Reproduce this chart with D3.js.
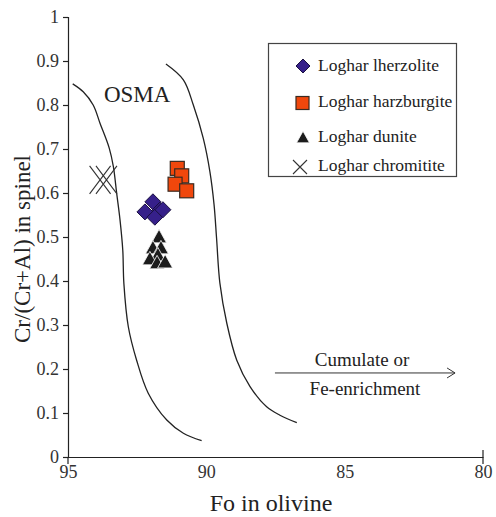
<!DOCTYPE html>
<html>
<head>
<meta charset="utf-8">
<script src="https://cdn.jsdelivr.net/npm/d3@7"></script>
<style>
  html, body { margin: 0; padding: 0; background: #fff; }
  svg { display: block; }
</style>
</head>
<body>
<svg id="chart" width="496" height="517"></svg>
<script>
// ---------- data ----------
const xTicks = [95, 90, 85, 80];
const yTicks = [0, 0.1, 0.2, 0.3, 0.4, 0.5, 0.6, 0.7, 0.8, 0.9, 1];

const lherzolite = [
  [91.93, 0.580], [92.22, 0.557], [91.68, 0.561], [91.86, 0.545], [91.57, 0.562]
];
const harzburgite = [
  [91.05, 0.656], [90.89, 0.639], [91.13, 0.620], [90.71, 0.605]
];
const dunite = [
  [91.71, 0.502], [91.93, 0.477], [91.64, 0.477], [91.75, 0.461],
  [92.04, 0.452], [91.78, 0.443], [91.49, 0.445]
];
const chromitite = [
  [93.84, 0.630], [93.61, 0.630]
];
const osmaLeft = [
  [94.83, 0.848], [94.45, 0.830], [94.09, 0.800], [93.84, 0.758], [93.51, 0.702],
  [93.36, 0.660], [93.24, 0.599], [93.12, 0.539], [93.02, 0.470], [92.98, 0.394],
  [92.82, 0.296], [92.52, 0.220], [92.10, 0.145], [91.43, 0.084], [90.83, 0.054],
  [90.17, 0.037]
];
const osmaRight = [
  [91.46, 0.893], [90.83, 0.857], [90.47, 0.800], [90.11, 0.724], [89.87, 0.648],
  [89.72, 0.573], [89.63, 0.497], [89.51, 0.395], [89.26, 0.304], [88.90, 0.220],
  [88.42, 0.160], [87.82, 0.114], [87.34, 0.095], [86.73, 0.078]
];
const legendLabels = ["Loghar lherzolite", "Loghar harzburgite", "Loghar dunite", "Loghar chromitite"];
const arrowLabels = ["Cumulate or", "Fe-enrichment"];
const arrowX = [87.52, 81.01];   // arrow start / end in Fo units
const arrowY = 0.191;

// ---------- layout ----------
const FONT = '"Liberation Serif", "Times New Roman", "DejaVu Serif", serif';
const svg = d3.select("#chart");
const x = d3.scaleLinear().domain([95, 80]).range([68, 483]);
const y = d3.scaleLinear().domain([0, 1]).range([457, 17]);

const colLherz = "#36208a", colHarz = "#f0470c", colDun = "#1c1c1c";

function txt(g, s, size) {
  return g.append("text").attr("font-family", FONT).style("font-family", FONT)
    .style("font-size", size + "px").attr("fill", "#222").text(s);
}

// axes
const yAxis = d3.axisLeft(y).tickValues(yTicks).tickSize(5).tickPadding(4)
  .tickFormat(d => d === 0 ? "0" : d === 1 ? "1" : d3.format(".1f")(d));
const gy = svg.append("g").attr("transform", `translate(${x(95)},0)`).call(yAxis)
  .attr("font-family", FONT);
gy.select(".domain").attr("stroke", "#222").attr("stroke-width", 1.2);
gy.selectAll(".tick line").attr("stroke", "#222").attr("stroke-width", 1.2);
gy.selectAll(".tick text").style("font-size", "18px").attr("fill", "#333")
  .style("font-family", FONT);

const xAxis = d3.axisBottom(x).tickValues(xTicks).tickSize(0).tickPadding(8)
  .tickFormat(d3.format("d"));
const gx = svg.append("g").attr("transform", `translate(0,${y(0)})`).call(xAxis)
  .attr("font-family", FONT);
gx.select(".domain").attr("stroke", "#222").attr("stroke-width", 1.2);
gx.selectAll(".tick text").style("font-size", "18px").attr("fill", "#333")
  .style("font-family", FONT);
// end ticks
gx.append("line").attr("x1", x(95)).attr("x2", x(95)).attr("y1", 0).attr("y2", 7)
  .attr("stroke", "#222").attr("stroke-width", 1.2);
gx.append("line").attr("x1", x(80)).attr("x2", x(80)).attr("y1", -7).attr("y2", 7)
  .attr("stroke", "#222").attr("stroke-width", 1.2);

// axis titles
txt(svg, "Fo in olivine", 24).attr("x", 271).attr("y", 511).attr("text-anchor", "middle");
txt(svg, "Cr/(Cr+Al) in spinel", 23).attr("transform", "translate(30,249) rotate(-90)")
  .attr("text-anchor", "middle");

// OSMA curves
const line = d3.line().x(d => x(d[0])).y(d => y(d[1])).curve(d3.curveCatmullRom.alpha(0.5));
[osmaLeft, osmaRight].forEach(c => {
  svg.append("path").datum(c).attr("d", line)
    .attr("fill", "none").attr("stroke", "#222").attr("stroke-width", 1.3);
});
txt(svg, "OSMA", 23).attr("x", x(92.5)).attr("y", y(0.807)).attr("text-anchor", "middle");

// arrow
svg.append("line").attr("x1", x(arrowX[0])).attr("x2", x(arrowX[1]))
  .attr("y1", y(arrowY)).attr("y2", y(arrowY)).attr("stroke", "#333").attr("stroke-width", 1);
svg.append("path")
  .attr("d", `M${x(arrowX[1]) - 8},${y(arrowY) - 5} L${x(arrowX[1])},${y(arrowY)} L${x(arrowX[1]) - 8},${y(arrowY) + 5}`)
  .attr("fill", "none").attr("stroke", "#333").attr("stroke-width", 1);
const axMid = (x(arrowX[0]) + x(arrowX[1])) / 2;
txt(svg, arrowLabels[0], 19).attr("x", axMid - 3).attr("y", y(arrowY) - 7).attr("text-anchor", "middle");
txt(svg, arrowLabels[1], 19).attr("x", axMid).attr("y", y(arrowY) + 22).attr("text-anchor", "middle");

// markers
function diamond(g, cx, cy, r) {
  g.append("path").attr("d", `M${cx},${cy - r}L${cx + r},${cy}L${cx},${cy + r}L${cx - r},${cy}Z`)
    .attr("fill", colLherz).attr("stroke", "#1a1040").attr("stroke-width", 1);
}
function square(g, cx, cy, s) {
  g.append("rect").attr("x", cx - s / 2).attr("y", cy - s / 2).attr("width", s).attr("height", s)
    .attr("fill", colHarz).attr("stroke", "#3a2a20").attr("stroke-width", 1.2);
}
function triangle(g, cx, cy, s) {
  const h = s * 0.9;
  g.append("path").attr("d", `M${cx},${cy - h / 2}L${cx + s / 2},${cy + h / 2}L${cx - s / 2},${cy + h / 2}Z`)
    .attr("fill", colDun).attr("stroke", "#fff").attr("stroke-width", 0.8);
}
function cross(g, cx, cy, w, h) {
  g.append("path").attr("d", `M${cx - w},${cy - h}L${cx + w},${cy + h}M${cx - w},${cy + h}L${cx + w},${cy - h}`)
    .attr("fill", "none").attr("stroke", "#333").attr("stroke-width", 1.1);
}

const gm = svg.append("g");
chromitite.forEach(d => cross(gm, x(d[0]), y(d[1]), 10.5, 14));
harzburgite.forEach(d => square(gm, x(d[0]), y(d[1]), 14));
lherzolite.forEach(d => diamond(gm, x(d[0]), y(d[1]), 8));
dunite.forEach(d => triangle(gm, x(d[0]), y(d[1]), 15));

// legend
const lg = svg.append("g");
lg.append("rect").attr("x", 268.5).attr("y", 43.5).attr("width", 188).attr("height", 133)
  .attr("fill", "#fff").attr("stroke", "#444").attr("stroke-width", 1.2);
const rowY = [66, 103, 137, 167];
const textY = [71, 107, 142, 171];
diamond(lg, 303, rowY[0], 7);
square(lg, 302.5, rowY[1], 13);
triangle(lg, 303, rowY[2], 13);
cross(lg, 300, rowY[3], 7, 7);
legendLabels.forEach((t, i) => {
  txt(lg, t, 17.5).attr("x", 318).attr("y", textY[i]);
});
</script>
</body>
</html>
